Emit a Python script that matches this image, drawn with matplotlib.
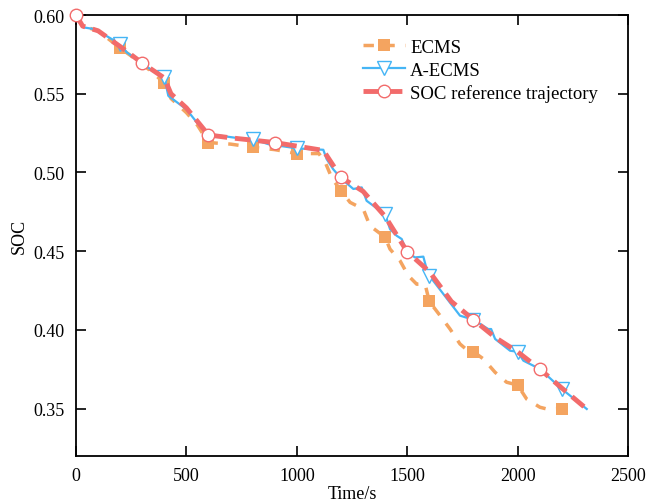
import numpy as np
import matplotlib
matplotlib.use("Agg")
import matplotlib.pyplot as plt

plt.rcParams['font.family'] = ['Liberation Serif', 'DejaVu Serif']
plt.rcParams['mathtext.fontset'] = 'stix'

# ECMS series
ecms_t = [0, 30, 100, 200, 300, 400, 430, 500, 550, 600, 700, 800, 900, 1000, 1100,
          1130, 1160, 1200, 1241, 1301, 1331, 1400, 1422, 1467, 1505, 1543, 1581, 1600,
          1649, 1694, 1739, 1769, 1800, 1845, 1898, 1950, 2000, 2041, 2101, 2132, 2200, 2250]
ecms_soc = [0.600, 0.593, 0.590, 0.579, 0.569, 0.557, 0.547, 0.538, 0.530, 0.519, 0.518,
            0.516, 0.5145, 0.512, 0.512, 0.506, 0.496, 0.4885, 0.481, 0.4767, 0.4661,
            0.4588, 0.4513, 0.444, 0.4344, 0.429, 0.429, 0.418, 0.409, 0.4005, 0.391,
            0.3874, 0.3861, 0.3815, 0.373, 0.3667, 0.3649, 0.356, 0.3508, 0.3497, 0.350, 0.350]
ecms_mark_t = [200, 400, 600, 800, 1000, 1200, 1400, 1600, 1800, 2000, 2200]

# A-ECMS series
aecms_t = [0, 33, 86, 200, 230, 297, 358, 400, 418, 501, 547, 592, 630, 765, 800, 870,
           1000, 1120, 1135, 1165, 1203, 1256, 1294, 1316, 1377, 1400, 1422, 1452, 1475,
           1498, 1535, 1573, 1588, 1600, 1739, 1800, 1867, 1880, 1898, 1966, 2000, 2026,
           2101, 2200, 2313]
aecms_soc = [0.598, 0.5922, 0.591, 0.5816, 0.5763, 0.5695, 0.5636, 0.5604, 0.5487, 0.540,
             0.5318, 0.5257, 0.5238, 0.5212, 0.5212, 0.518, 0.5153, 0.5144, 0.5085, 0.502,
             0.4958, 0.4895, 0.4905, 0.482, 0.4757, 0.4736, 0.464, 0.4598, 0.4577, 0.4496,
             0.446, 0.4465, 0.4386, 0.4344, 0.409, 0.4064, 0.4005, 0.4005, 0.3942, 0.3867,
             0.3861, 0.3804, 0.3751, 0.3624, 0.3497]
aecms_mark_t = [200, 400, 800, 1000, 1400, 1600, 1800, 2000, 2200]

# SOC reference trajectory
ref_t = [0, 30, 100, 200, 300, 400, 430, 500, 600, 700, 900, 1120, 1200, 1300, 1400,
         1500, 1600, 1700, 1800, 1900, 2000, 2100, 2200, 2313]
ref_soc = [0.600, 0.593, 0.590, 0.580, 0.5695, 0.560, 0.550, 0.541, 0.5238, 0.522, 0.519,
           0.514, 0.4969, 0.488, 0.472, 0.4496, 0.437, 0.418, 0.4064, 0.395, 0.386,
           0.3751, 0.363, 0.3497]
ref_mark_t = [0, 300, 600, 900, 1200, 1500, 1800, 2100]

x_ticks = [0, 500, 1000, 1500, 2000, 2500]
y_ticks = [0.35, 0.40, 0.45, 0.50, 0.55, 0.60]

c_ecms = '#f4a460'
c_aecms = '#45b5f5'
c_ref = '#f26b6b'

fig = plt.figure(figsize=(6.57, 5.02), dpi=100)
ax = fig.add_axes([0.1157, 0.0902, 0.8402, 0.8778])

def idx(ts, marks):
    return [int(i) for i in np.where(np.isin(ts, marks))[0]]

ax.plot(ecms_t, ecms_soc, color=c_ecms, lw=2.5, ls=(0, (3, 3)), marker='s',
        markersize=8, markeredgewidth=0, markevery=idx(ecms_t, ecms_mark_t),
        label='ECMS', zorder=2)
ax.plot(aecms_t, aecms_soc, color=c_aecms, lw=1.6, ls='-', marker='v',
        markersize=10, markerfacecolor='white', markeredgecolor=c_aecms,
        markeredgewidth=1.0, markevery=idx(aecms_t, aecms_mark_t),
        label='A-ECMS', zorder=3)
ax.plot(ref_t, ref_soc, color=c_ref, lw=3.5, ls=(0, (3.2, 1.6)), marker='o',
        markersize=9, markerfacecolor='white', markeredgecolor=c_ref,
        markeredgewidth=1.0, markevery=idx(ref_t, ref_mark_t),
        label='SOC reference trajectory', zorder=4, clip_on=False)

ax.set_xlim(0, 2500)
ax.set_ylim(0.32, 0.60)
ax.set_xticks(x_ticks)
ax.set_yticks(y_ticks)
ax.set_yticklabels([f'{v:.2f}' for v in y_ticks])
ax.tick_params(direction='in', top=True, right=True, length=7, width=1.2,
               labelsize=13, pad=8)
for s in ax.spines.values():
    s.set_linewidth(1.3)
ax.set_xlabel('Time/s', fontsize=13, labelpad=1)
ax.set_ylabel('SOC', fontsize=13, labelpad=4)

leg = ax.legend(loc='upper left', bbox_to_anchor=(0.5, 0.972), frameon=False,
                fontsize=13.5, handlelength=2.2, handletextpad=0.3, labelspacing=0.3,
                borderaxespad=0.2)

fig.savefig('out.png', dpi=100)
